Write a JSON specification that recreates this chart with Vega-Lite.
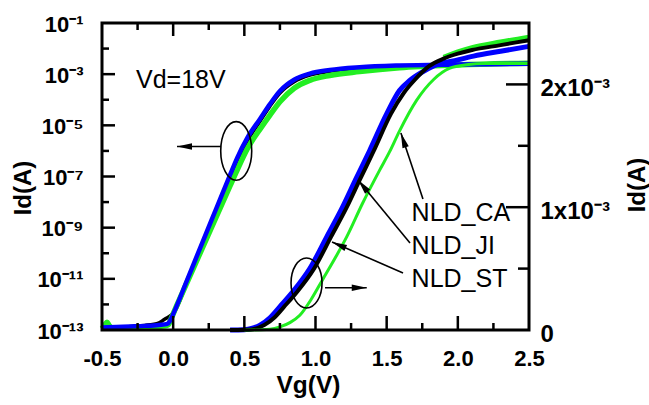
{
  "$schema": "https://vega.github.io/schema/vega-lite/v6.json",
  "width": 427,
  "height": 307,
  "autosize": "none",
  "padding": {"left": 102, "top": 23, "right": 120, "bottom": 75},
  "background": "white",
  "config": {
    "view": {"stroke": null},
    "axis": {
      "grid": false, "domain": false, "ticks": false,
      "labelColor": "black", "titleColor": "black", "labelFont": "Liberation Sans", "titleFont": "Liberation Sans",
      "labelFontWeight": "bold", "titleFontWeight": "bold", "labelFlush": false, "labelOverlap": false, "zindex": 1
    }
  },
  "datasets": {
    "logCA": [
      {"vg": -0.5, "id": 1.12e-13}, {"vg": -0.48, "id": 1.58e-13}, {"vg": -0.465, "id": 2.0e-13}, {"vg": -0.45, "id": 1.51e-13},
      {"vg": -0.43, "id": 1.17e-13}, {"vg": -0.3, "id": 1.2e-13}, {"vg": -0.15, "id": 1.32e-13}, {"vg": -0.06, "id": 1.45e-13},
      {"vg": -0.035, "id": 1.58e-13}, {"vg": -0.01, "id": 3.16e-13}, {"vg": 0.013, "id": 6.31e-13}, {"vg": 0.1, "id": 7.76e-12},
      {"vg": 0.2, "id": 1.38e-10}, {"vg": 0.3, "id": 2.45e-9}, {"vg": 0.4, "id": 4.37e-8}, {"vg": 0.45, "id": 1.82e-7},
      {"vg": 0.52, "id": 1.2e-6}, {"vg": 0.61, "id": 7.08e-6}, {"vg": 0.68, "id": 2.51e-5}, {"vg": 0.75, "id": 8.32e-5},
      {"vg": 0.85, "id": 2.82e-4}, {"vg": 0.96, "id": 5.75e-4}, {"vg": 1.1, "id": 8.91e-4}, {"vg": 1.31, "id": 1.26e-3},
      {"vg": 1.59, "id": 1.78e-3}, {"vg": 2.0, "id": 2.29e-3}, {"vg": 2.5, "id": 2.69e-3}
    ],
    "logJI": [
      {"vg": -0.5, "id": 1.26e-13}, {"vg": -0.4, "id": 1.32e-13}, {"vg": -0.3, "id": 1.38e-13}, {"vg": -0.2, "id": 1.45e-13},
      {"vg": -0.1, "id": 1.58e-13}, {"vg": -0.04, "id": 1.74e-13}, {"vg": -0.02, "id": 2.4e-13}, {"vg": 0.0, "id": 4.17e-13},
      {"vg": 0.1, "id": 9.55e-12}, {"vg": 0.2, "id": 2.24e-10}, {"vg": 0.3, "id": 5.13e-9}, {"vg": 0.4, "id": 1.17e-7},
      {"vg": 0.45, "id": 5.37e-7}, {"vg": 0.52, "id": 3.16e-6}, {"vg": 0.61, "id": 1.78e-5}, {"vg": 0.68, "id": 6.76e-5},
      {"vg": 0.75, "id": 2.19e-4}, {"vg": 0.85, "id": 6.03e-4}, {"vg": 0.96, "id": 1.05e-3}, {"vg": 1.1, "id": 1.45e-3},
      {"vg": 1.31, "id": 1.86e-3}, {"vg": 1.59, "id": 2.19e-3}, {"vg": 2.0, "id": 2.4e-3}, {"vg": 2.5, "id": 2.57e-3}
    ],
    "logST": [
      {"vg": -0.5, "id": 1.12e-13}, {"vg": -0.4, "id": 1.26e-13}, {"vg": -0.3, "id": 1.38e-13}, {"vg": -0.2, "id": 1.51e-13},
      {"vg": -0.1, "id": 1.91e-13}, {"vg": -0.06, "id": 2.63e-13}, {"vg": -0.03, "id": 3.31e-13}, {"vg": 0.0, "id": 4.4e-13},
      {"vg": 0.1, "id": 7.94e-12}, {"vg": 0.2, "id": 1.78e-10}, {"vg": 0.3, "id": 3.98e-9}, {"vg": 0.4, "id": 8.91e-8},
      {"vg": 0.45, "id": 3.98e-7}, {"vg": 0.52, "id": 2.4e-6}, {"vg": 0.61, "id": 1.45e-5}, {"vg": 0.68, "id": 5.62e-5},
      {"vg": 0.75, "id": 1.82e-4}, {"vg": 0.85, "id": 5.01e-4}, {"vg": 0.96, "id": 9.12e-4}, {"vg": 1.1, "id": 1.29e-3},
      {"vg": 1.31, "id": 1.7e-3}, {"vg": 1.59, "id": 2.04e-3}, {"vg": 2.0, "id": 2.29e-3}, {"vg": 2.5, "id": 2.51e-3}
    ],
    "linJI": [
      {"vg": 0.4, "id": 0}, {"vg": 0.5, "id": 3e-6}, {"vg": 0.55, "id": 1.2e-5}, {"vg": 0.61, "id": 4e-5}, {"vg": 0.68, "id": 1.0e-4},
      {"vg": 0.75, "id": 1.9e-4}, {"vg": 0.84, "id": 3.1e-4}, {"vg": 0.96, "id": 5.0e-4}, {"vg": 1.08, "id": 7.6e-4},
      {"vg": 1.19, "id": 1.0e-3}, {"vg": 1.28, "id": 1.22e-3}, {"vg": 1.38, "id": 1.46e-3}, {"vg": 1.5, "id": 1.76e-3},
      {"vg": 1.59, "id": 1.95e-3}, {"vg": 1.66, "id": 2.03e-3}, {"vg": 1.75, "id": 2.1e-3}, {"vg": 1.83, "id": 2.15e-3},
      {"vg": 2.0, "id": 2.2e-3}, {"vg": 2.11, "id": 2.23e-3}, {"vg": 2.3, "id": 2.27e-3}, {"vg": 2.5, "id": 2.31e-3}
    ],
    "linST": [
      {"vg": 0.4, "id": 0}, {"vg": 0.55, "id": 5e-6}, {"vg": 0.64, "id": 4e-5}, {"vg": 0.71, "id": 1.0e-4}, {"vg": 0.78, "id": 1.9e-4},
      {"vg": 0.87, "id": 3.1e-4}, {"vg": 0.99, "id": 5.0e-4}, {"vg": 1.11, "id": 7.6e-4}, {"vg": 1.22, "id": 1.0e-3},
      {"vg": 1.31, "id": 1.22e-3}, {"vg": 1.41, "id": 1.46e-3}, {"vg": 1.53, "id": 1.76e-3}, {"vg": 1.62, "id": 1.93e-3},
      {"vg": 1.7, "id": 2.04e-3}, {"vg": 1.8, "id": 2.15e-3}, {"vg": 1.9, "id": 2.21e-3}, {"vg": 2.0, "id": 2.25e-3},
      {"vg": 2.1, "id": 2.28e-3}, {"vg": 2.3, "id": 2.32e-3}, {"vg": 2.5, "id": 2.36e-3}
    ],
    "linCA": [
      {"vg": 0.5, "id": 0}, {"vg": 0.62, "id": 2e-6}, {"vg": 0.68, "id": 6e-6}, {"vg": 0.75, "id": 2.5e-5}, {"vg": 0.82, "id": 6e-5},
      {"vg": 0.89, "id": 1.2e-4}, {"vg": 0.97, "id": 2.5e-4}, {"vg": 1.05, "id": 4.1e-4}, {"vg": 1.14, "id": 5.9e-4},
      {"vg": 1.22, "id": 7.6e-4}, {"vg": 1.33, "id": 1.03e-3}, {"vg": 1.45, "id": 1.3e-3}, {"vg": 1.52, "id": 1.45e-3},
      {"vg": 1.59, "id": 1.62e-3}, {"vg": 1.71, "id": 1.87e-3}, {"vg": 1.83, "id": 2.04e-3}, {"vg": 1.94, "id": 2.13e-3},
      {"vg": 2.06, "id": 2.16e-3}, {"vg": 2.2, "id": 2.17e-3}, {"vg": 2.5, "id": 2.17e-3}
    ],
    "linCA2": [
      {"vg": 1.9, "id": 2.22e-3}, {"vg": 2.0, "id": 2.265e-3}, {"vg": 2.1, "id": 2.3e-3}, {"vg": 2.3, "id": 2.345e-3}, {"vg": 2.5, "id": 2.385e-3}
    ],
    "logNote": [{"vg": -0.261, "id": 2.9e-4, "t": "Vd=18V"}],
    "logEllipse": [{"vg": 0.443, "id": 1.0e-6}],
    "logArrow": [{"vg": 0.336, "vg2": 0.027, "id": 1.486e-6}],
    "logHead": [{"vg": 0.027, "id": 1.486e-6}],
    "linEllipse": [{"vg": 0.937, "id": 3.83e-4}],
    "linArrows": [
      {"vg": 1.067, "id": 3.44e-4, "vg2": 1.36, "id2": 3.44e-4},
      {"vg": 1.755, "id": 1.067e-3, "vg2": 1.6, "id2": 1.604e-3},
      {"vg": 1.664, "id": 7.08e-4, "vg2": 1.299, "id2": 1.221e-3},
      {"vg": 1.615, "id": 4.64e-4, "vg2": 1.116, "id2": 7.17e-4}
    ],
    "headRight": [{"vg": 1.36, "id": 3.44e-4}],
    "headCA": [{"vg": 1.6, "id": 1.604e-3}],
    "headJI": [{"vg": 1.299, "id": 1.221e-3}],
    "headST": [{"vg": 1.116, "id": 7.17e-4}],
    "labels": [
      {"vg": 1.675, "id": 8.88e-4, "t": "NLD_CA"},
      {"vg": 1.675, "id": 6.19e-4, "t": "NLD_JI"},
      {"vg": 1.675, "id": 3.48e-4, "t": "NLD_ST"}
    ],
    "xMajor": [{"vg": 0}, {"vg": 0.5}, {"vg": 1}, {"vg": 1.5}, {"vg": 2}],
    "xMinor": [{"vg": -0.25}, {"vg": 0.25}, {"vg": 0.75}, {"vg": 1.25}, {"vg": 1.75}, {"vg": 2.25}],
    "logMajor": [{"id": 1e-3}, {"id": 1e-5}, {"id": 1e-7}, {"id": 1e-9}, {"id": 1e-11}],
    "logMinor": [{"id": 1e-2}, {"id": 1e-4}, {"id": 1e-6}, {"id": 1e-8}, {"id": 1e-10}, {"id": 1e-12}],
    "linMajor": [{"id": 1e-3}, {"id": 2e-3}],
    "linMinor": [{"id": 5e-4}, {"id": 1.5e-3}],
    "frame": [{"k": 1}]
  },
  "layer": [
    {
      "layer": [
        {
          "data": {"name": "logST"},
          "mark": {"type": "line", "color": "black", "strokeWidth": 3.5, "interpolate": "monotone"},
          "encoding": {
            "x": {
              "field": "vg", "type": "quantitative",
              "scale": {"domain": [-0.5, 2.5], "nice": false, "zero": false},
              "axis": {
                "orient": "bottom",
                "values": [-0.5, 0, 0.5, 1, 1.5, 2, 2.5],
                "labelExpr": "datum.value < 0 ? '-' + format(-datum.value, '.1f') : format(datum.value, '.1f')",
                "labelPadding": 18.5, "labelFontSize": 22,
                "title": "Vg(V)", "titleFontSize": 24.5, "titleX": 206, "titleY": 55, "titleAlign": "center", "titleBaseline": "middle"
              }
            },
            "y": {
              "field": "id", "type": "quantitative",
              "scale": {"type": "log", "domain": [1e-13, 1e-1], "nice": false},
              "axis": {
                "orient": "left",
                "values": [1e-1, 1e-3, 1e-5, 1e-7, 1e-9, 1e-11, 1e-13],
                "labelExpr": "['', '10⁻¹', '', '10⁻³', '', '10⁻⁵', '', '10⁻⁷', '', '10⁻⁹', '', '10⁻¹¹', '', '10⁻¹³'][-round(log(datum.value)/LN10)]",
                "labelPadding": 19, "labelFontSize": 22, "labelOffset": 1,
                "title": "Id(A)", "titleFontSize": 24, "titleAngle": 270, "titleX": -79, "titleY": 164.5, "titleAlign": "center", "titleBaseline": "middle"
              }
            }
          }
        },
        {
          "data": {"name": "logCA"},
          "mark": {"type": "line", "color": "#22ee22", "strokeWidth": 5.5, "interpolate": "monotone"},
          "encoding": {"x": {"field": "vg", "type": "quantitative"}, "y": {"field": "id", "type": "quantitative", "scale": {"type": "log", "domain": [1e-13, 1e-1], "nice": false}}}
        },
        {
          "data": {"name": "logJI"},
          "mark": {"type": "line", "color": "#0000ff", "strokeWidth": 4.5, "interpolate": "monotone"},
          "encoding": {"x": {"field": "vg", "type": "quantitative"}, "y": {"field": "id", "type": "quantitative", "scale": {"type": "log", "domain": [1e-13, 1e-1], "nice": false}}}
        },
        {
          "data": {"name": "logNote"},
          "mark": {"type": "text", "align": "left", "baseline": "alphabetic", "font": "Liberation Sans", "fontSize": 25, "color": "black"},
          "encoding": {"x": {"field": "vg", "type": "quantitative"}, "y": {"field": "id", "type": "quantitative", "scale": {"type": "log", "domain": [1e-13, 1e-1], "nice": false}}, "text": {"field": "t"}}
        },
        {
          "data": {"name": "logEllipse"},
          "mark": {"type": "point", "shape": "M0,-1C0.292,-1 0.529,-0.5523 0.529,0C0.529,0.5523 0.292,1 0,1C-0.292,1 -0.529,0.5523 -0.529,0C-0.529,-0.5523 -0.292,-1 0,-1Z", "size": 3434, "filled": false, "stroke": "black", "strokeWidth": 1.6, "opacity": 1},
          "encoding": {"x": {"field": "vg", "type": "quantitative"}, "y": {"field": "id", "type": "quantitative", "scale": {"type": "log", "domain": [1e-13, 1e-1], "nice": false}}}
        },
        {
          "data": {"name": "logArrow"},
          "mark": {"type": "rule", "color": "black", "strokeWidth": 1.6},
          "encoding": {"x": {"field": "vg", "type": "quantitative"}, "x2": {"field": "vg2"}, "y": {"field": "id", "type": "quantitative", "scale": {"type": "log", "domain": [1e-13, 1e-1], "nice": false}}}
        },
        {
          "data": {"name": "logHead"},
          "mark": {"type": "point", "shape": "M0,0L0.22,1L-0.22,1Z", "size": 900, "angle": 270, "filled": true, "color": "black", "opacity": 1, "strokeWidth": 0},
          "encoding": {"x": {"field": "vg", "type": "quantitative"}, "y": {"field": "id", "type": "quantitative", "scale": {"type": "log", "domain": [1e-13, 1e-1], "nice": false}}}
        },
        {
          "data": {"name": "logMajor"},
          "mark": {"type": "tick", "orient": "horizontal", "size": 13, "thickness": 2.5, "color": "black", "opacity": 1, "xOffset": 6.5},
          "encoding": {"x": {"datum": -0.5, "type": "quantitative"}, "y": {"field": "id", "type": "quantitative", "scale": {"type": "log", "domain": [1e-13, 1e-1], "nice": false}}}
        },
        {
          "data": {"name": "logMinor"},
          "mark": {"type": "tick", "orient": "horizontal", "size": 7, "thickness": 2.5, "color": "black", "opacity": 1, "xOffset": 3.5},
          "encoding": {"x": {"datum": -0.5, "type": "quantitative"}, "y": {"field": "id", "type": "quantitative", "scale": {"type": "log", "domain": [1e-13, 1e-1], "nice": false}}}
        }
      ]
    },
    {
      "layer": [
        {
          "data": {"name": "linJI"},
          "mark": {"type": "line", "color": "#0000ff", "strokeWidth": 5, "interpolate": "monotone"},
          "encoding": {
            "x": {"field": "vg", "type": "quantitative", "scale": {"domain": [-0.5, 2.5], "nice": false, "zero": false}, "axis": null},
            "y": {
              "field": "id", "type": "quantitative",
              "scale": {"domain": [0, 2.5e-3], "nice": false, "zero": false},
              "axis": {
                "orient": "right",
                "values": [0, 1e-3, 2e-3],
                "labelExpr": "datum.value < 1e-5 ? '0' : (abs(datum.value - 1e-3) < 1e-5 ? '1x10⁻³' : '2x10⁻³')",
                "labelPadding": 11, "labelFontSize": 24, "labelOffset": 4, "labelAlign": "left",
                "title": "Id(A)", "titleFontSize": 24, "titleAngle": 270, "titleX": 108, "titleY": 161.5, "titleAlign": "center", "titleBaseline": "middle"
              }
            }
          }
        },
        {
          "data": {"name": "linCA2"},
          "mark": {"type": "line", "color": "#22ee22", "strokeWidth": 5, "interpolate": "monotone"},
          "encoding": {"x": {"field": "vg", "type": "quantitative", "axis": null}, "y": {"field": "id", "type": "quantitative"}}
        },
        {
          "data": {"name": "linST"},
          "mark": {"type": "line", "color": "black", "strokeWidth": 4, "interpolate": "monotone"},
          "encoding": {"x": {"field": "vg", "type": "quantitative", "axis": null}, "y": {"field": "id", "type": "quantitative"}}
        },
        {
          "data": {"name": "linCA"},
          "mark": {"type": "line", "color": "#22ee22", "strokeWidth": 3, "interpolate": "monotone"},
          "encoding": {"x": {"field": "vg", "type": "quantitative", "axis": null}, "y": {"field": "id", "type": "quantitative"}}
        },
        {
          "data": {"name": "linEllipse"},
          "mark": {"type": "point", "shape": "M0,-1C0.342,-1 0.62,-0.5523 0.62,0C0.62,0.5523 0.342,1 0,1C-0.342,1 -0.62,0.5523 -0.62,0C-0.62,-0.5523 -0.342,-1 0,-1Z", "size": 2500, "filled": false, "stroke": "black", "strokeWidth": 1.6, "opacity": 1},
          "encoding": {"x": {"field": "vg", "type": "quantitative", "axis": null}, "y": {"field": "id", "type": "quantitative"}}
        },
        {
          "data": {"name": "linArrows"},
          "mark": {"type": "rule", "color": "black", "strokeWidth": 1.6},
          "encoding": {"x": {"field": "vg", "type": "quantitative", "axis": null}, "x2": {"field": "vg2"}, "y": {"field": "id", "type": "quantitative"}, "y2": {"field": "id2"}}
        },
        {
          "data": {"name": "headRight"},
          "mark": {"type": "point", "shape": "M0,0L0.22,1L-0.22,1Z", "size": 900, "angle": 90, "filled": true, "color": "black", "opacity": 1, "strokeWidth": 0},
          "encoding": {"x": {"field": "vg", "type": "quantitative", "axis": null}, "y": {"field": "id", "type": "quantitative"}}
        },
        {
          "data": {"name": "headCA"},
          "mark": {"type": "point", "shape": "M0,0L0.22,1L-0.22,1Z", "size": 900, "angle": 341.6, "filled": true, "color": "black", "opacity": 1, "strokeWidth": 0},
          "encoding": {"x": {"field": "vg", "type": "quantitative", "axis": null}, "y": {"field": "id", "type": "quantitative"}}
        },
        {
          "data": {"name": "headJI"},
          "mark": {"type": "point", "shape": "M0,0L0.22,1L-0.22,1Z", "size": 900, "angle": 320.5, "filled": true, "color": "black", "opacity": 1, "strokeWidth": 0},
          "encoding": {"x": {"field": "vg", "type": "quantitative", "axis": null}, "y": {"field": "id", "type": "quantitative"}}
        },
        {
          "data": {"name": "headST"},
          "mark": {"type": "point", "shape": "M0,0L0.22,1L-0.22,1Z", "size": 900, "angle": 293.6, "filled": true, "color": "black", "opacity": 1, "strokeWidth": 0},
          "encoding": {"x": {"field": "vg", "type": "quantitative", "axis": null}, "y": {"field": "id", "type": "quantitative"}}
        },
        {
          "data": {"name": "labels"},
          "mark": {"type": "text", "align": "left", "baseline": "alphabetic", "font": "Liberation Sans", "fontSize": 25, "color": "black"},
          "encoding": {"x": {"field": "vg", "type": "quantitative", "axis": null}, "y": {"field": "id", "type": "quantitative"}, "text": {"field": "t"}}
        },
        {
          "data": {"name": "xMajor"},
          "mark": {"type": "tick", "orient": "vertical", "size": 14, "thickness": 2.5, "color": "black", "opacity": 1, "yOffset": -7},
          "encoding": {"x": {"field": "vg", "type": "quantitative", "axis": null}, "y": {"datum": 0, "type": "quantitative"}}
        },
        {
          "data": {"name": "xMinor"},
          "mark": {"type": "tick", "orient": "vertical", "size": 7, "thickness": 2.5, "color": "black", "opacity": 1, "yOffset": -3.5},
          "encoding": {"x": {"field": "vg", "type": "quantitative", "axis": null}, "y": {"datum": 0, "type": "quantitative"}}
        },
        {
          "data": {"name": "xMajor"},
          "mark": {"type": "tick", "orient": "vertical", "size": 13, "thickness": 2.5, "color": "black", "opacity": 1, "yOffset": 6.5},
          "encoding": {"x": {"field": "vg", "type": "quantitative", "axis": null}, "y": {"datum": 2.5e-3, "type": "quantitative"}}
        },
        {
          "data": {"name": "xMinor"},
          "mark": {"type": "tick", "orient": "vertical", "size": 7, "thickness": 2.5, "color": "black", "opacity": 1, "yOffset": 3.5},
          "encoding": {"x": {"field": "vg", "type": "quantitative", "axis": null}, "y": {"datum": 2.5e-3, "type": "quantitative"}}
        },
        {
          "data": {"name": "linMajor"},
          "mark": {"type": "tick", "orient": "horizontal", "size": 23, "thickness": 2.5, "color": "black", "opacity": 1, "xOffset": -11.5},
          "encoding": {"x": {"datum": 2.5, "type": "quantitative", "axis": null}, "y": {"field": "id", "type": "quantitative"}}
        },
        {
          "data": {"name": "linMinor"},
          "mark": {"type": "tick", "orient": "horizontal", "size": 11, "thickness": 2.5, "color": "black", "opacity": 1, "xOffset": -5.5},
          "encoding": {"x": {"datum": 2.5, "type": "quantitative", "axis": null}, "y": {"field": "id", "type": "quantitative"}}
        },
        {
          "data": {"name": "frame"},
          "mark": {"type": "rect", "filled": false, "stroke": "black", "strokeWidth": 3, "opacity": 1},
          "encoding": {
            "x": {"datum": -0.5, "type": "quantitative", "axis": null}, "x2": {"datum": 2.5},
            "y": {"datum": 0, "type": "quantitative"}, "y2": {"datum": 2.5e-3}
          }
        }
      ]
    }
  ],
  "resolve": {"scale": {"x": "independent", "y": "independent"}, "axis": {"x": "independent", "y": "independent"}}
}
